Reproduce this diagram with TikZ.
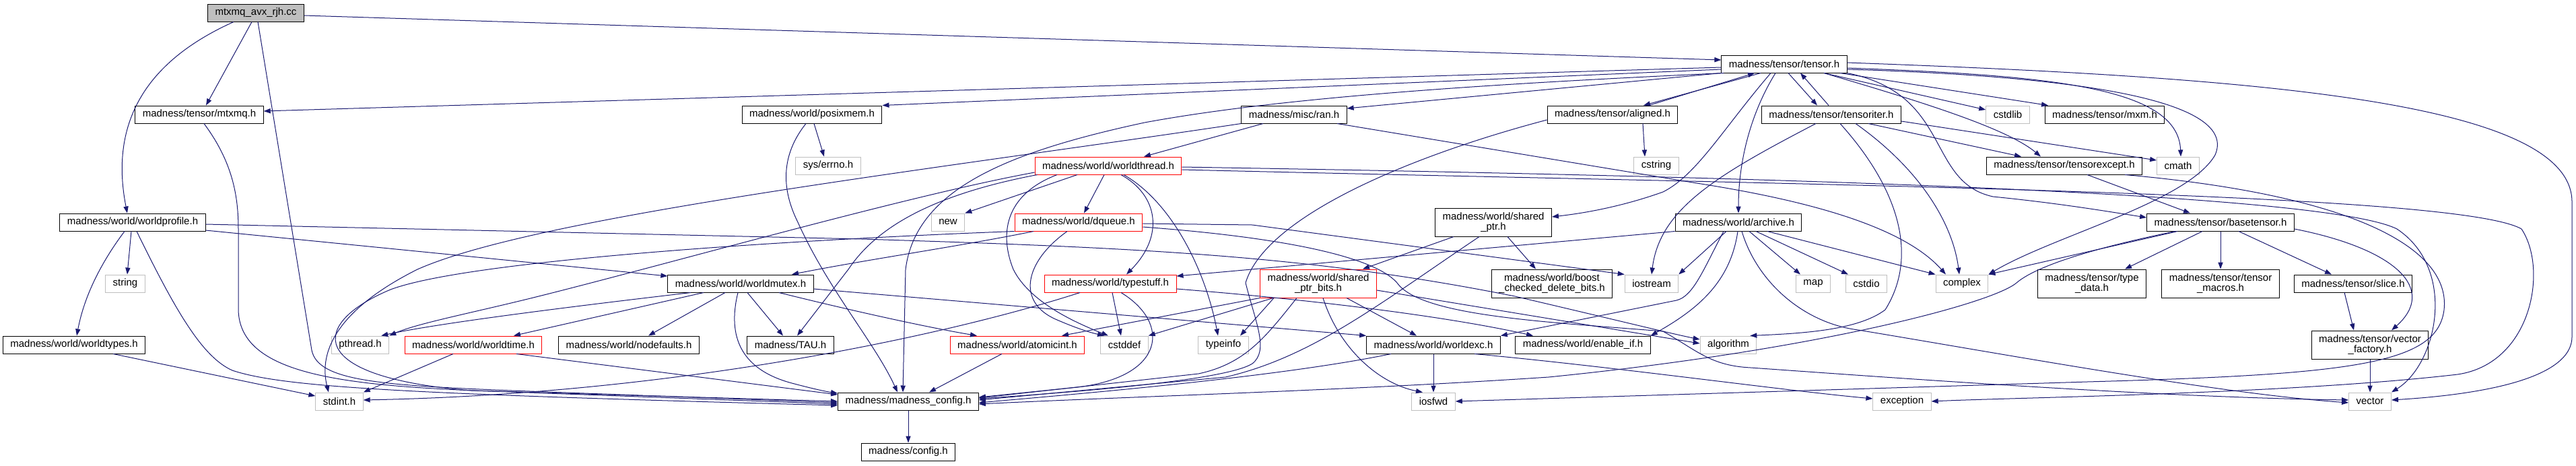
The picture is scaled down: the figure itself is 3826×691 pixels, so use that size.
\documentclass[tikz,border=0pt]{standalone}
\usepackage{fontspec}
\setmainfont{Liberation Sans}
\usetikzlibrary{arrows.meta}

\definecolor{edgeblue}{HTML}{191970}
\definecolor{sysgray}{HTML}{BFBFBF}
\newcommand{\hdrfont}{\fontsize{7.5}{7.7}\selectfont}

\begin{document}
\begin{tikzpicture}[x=0.5pt,y=-0.5pt,
  hdr/.style={draw=black,fill=white,font=\hdrfont,inner xsep=5.5pt,inner ysep=0pt,
    minimum height=13pt,line width=0.5pt,align=center},
  twoline/.style={hdr,minimum height=21pt},
  sys/.style={hdr,draw=sysgray},
  trunc/.style={hdr,draw=red},
  root/.style={hdr,fill=sysgray},
  dep/.style={draw=edgeblue,line width=0.5pt,-{Triangle[length=5pt,width=3.6pt]}}]
\useasboundingbox (0,0) rectangle (3826,691);

% % Nodes, rank by rank
\node[root] (root) at (380,19) {mtxmq\_avx\_rjh.cc};

\node[hdr] (tensor) at (2650,95) {madness/tensor/tensor.h};

\node[hdr] (mtxmq) at (296,170) {madness/tensor/mtxmq.h};
\node[hdr] (posixmem) at (1206,170) {madness/world/posixmem.h};
\node[hdr] (ran) at (1922,170) {madness/misc/ran.h};
\node[hdr] (aligned) at (2395,170) {madness/tensor/aligned.h};
\node[hdr] (tensoriter) at (2720,170) {madness/tensor/tensoriter.h};
\node[sys] (cstdlib) at (2982,170) {cstdlib};
\node[hdr] (mxm) at (3126,170) {madness/tensor/mxm.h};

\node[sys] (errno) at (1230,246) {sys/errno.h};
\node[trunc] (worldthread) at (1646,246) {madness/world/worldthread.h};
\node[sys] (cstring) at (2460,246) {cstring};
\node[hdr] (tensorexcept) at (3066,246) {madness/tensor/tensorexcept.h};
\node[sys] (cmath) at (3235,246) {cmath};

\node[hdr] (worldprofile) at (197,330) {madness/world/worldprofile.h};
\node[sys] (new) at (1408,330) {new};
\node[trunc] (dqueue) at (1602,330) {madness/world/dqueue.h};
\node[twoline] (sharedptr) at (2218,330) {madness/world/shared\\\_ptr.h};
\node[hdr] (archive) at (2582,330) {madness/world/archive.h};
\node[hdr] (basetensor) at (3298,330) {madness/tensor/basetensor.h};

\node[sys] (string) at (186,421) {string};
\node[hdr] (worldmutex) at (1100,421) {madness/world/worldmutex.h};
\node[trunc] (typestuff) at (1649,421) {madness/world/typestuff.h};
\node[twoline,draw=red] (sptrbits) at (1958,421) {madness/world/shared\\\_ptr\_bits.h};
\node[twoline] (boost) at (2305,421) {madness/world/boost\\\_checked\_delete\_bits.h};
\node[sys] (iostream) at (2453,421) {iostream};
\node[sys] (map) at (2693,421) {map};
\node[sys] (cstdio) at (2772,421) {cstdio};
\node[sys] (complex) at (2914,421) {complex};
\node[twoline] (typedata) at (3107,421) {madness/tensor/type\\\_data.h};
\node[twoline] (macros) at (3298,421) {madness/tensor/tensor\\\_macros.h};
\node[hdr] (slice) at (3495,421) {madness/tensor/slice.h};

\node[hdr] (worldtypes) at (110,512) {madness/world/worldtypes.h};
\node[sys] (pthread) at (535,512) {pthread.h};
\node[trunc] (worldtime) at (703,512) {madness/world/worldtime.h};
\node[hdr] (nodefaults) at (934,512) {madness/world/nodefaults.h};
\node[hdr] (tau) at (1174,512) {madness/TAU.h};
\node[trunc] (atomicint) at (1511,512) {madness/world/atomicint.h};
\node[sys] (cstddef) at (1670,512) {cstddef};
\node[sys] (typeinfo) at (1817,512) {typeinfo};
\node[hdr] (worldexc) at (2129,512) {madness/world/worldexc.h};
\node[hdr] (enableif) at (2351,512) {madness/world/enable\_if.h};
\node[sys] (algorithm) at (2567,512) {algorithm};
\node[twoline] (vfactory) at (3520,512) {madness/tensor/vector\\\_factory.h};

\node[sys] (stdint) at (504,596) {stdint.h};
\node[hdr] (config) at (1349,596) {madness/madness\_config.h};
\node[sys] (iosfwd) at (2129,596) {iosfwd};
\node[sys] (exception) at (2825,596) {exception};
\node[sys] (vector) at (3520,596) {vector};

\node[hdr] (configh) at (1349,671) {madness/config.h};

% % the file itself
\draw[dep] ([yshift=-2pt]root.east) -- ([yshift=3pt]tensor.west);
\draw[dep] ([xshift=-3pt]root.south) -- ([xshift=5pt]mtxmq.north);
\draw[dep] ([xshift=-16.5pt]root.south) .. controls (230,85) and (160,170) .. ([xshift=-4pt]worldprofile.north);
\draw[dep] ([xshift=1.5pt]root.south) -- (463,520) .. controls (472,565) and (560,572) .. (760,580) -- ([yshift=-1pt]config.west);
\draw[dep] ([xshift=3.5pt]mtxmq.south) .. controls (345,240) and (354,290) .. (354,340) -- (354,460)
  .. controls (356,560) and (520,574) .. (760,582) -- ([yshift=-2pt]config.west);

% % tensor.h
\draw[dep] ([yshift=-2.5pt]tensor.west) -- ([yshift=2.5pt]mtxmq.east);
\draw[dep] ([yshift=-4pt]tensor.west) -- (posixmem.north east);
\draw[dep] (tensor.south west) -- ([yshift=4.5pt]ran.east);
\draw[dep] ([xshift=2pt]tensor.south west) .. controls (2200,125) and (1900,145) .. (1700,182)
  .. controls (1500,225) and (1360,280) .. (1345,400) -- ([xshift=-4pt]config.north);
\draw[dep] ([xshift=-17.5pt]tensor.south) -- ([xshift=23pt]aligned.north);
\draw[dep] ([xshift=27pt]aligned.north) -- ([xshift=-22pt]tensor.south);
\draw[dep] ([xshift=3pt]tensor.south) -- ([xshift=-10.5pt]tensoriter.north);
\draw[dep] ([xshift=-2pt]tensoriter.north) -- ([xshift=12pt]tensor.south);
\draw[dep] ([xshift=29.5pt]tensor.south) -- ([yshift=3.5pt]cstdlib.west);
\draw[dep] ([xshift=41.5pt]tensor.south) -- ([xshift=-42pt]mxm.north);
\draw[dep] ([xshift=29.5pt]tensor.south) .. controls (2850,150) and (2980,190) .. ([xshift=-17.5pt]tensorexcept.north);
\draw[dep] ([yshift=-3pt]tensor.east) .. controls (3050,112) and (3235,130) .. ([xshift=2pt]cmath.north);
\draw[dep] ([yshift=-4pt]tensor.east) .. controls (3150,115) and (3320,160) .. (3290,230)
  .. controls (3250,300) and (3050,350) .. (complex.north east);
\draw[dep] ([yshift=1pt]tensor.east) .. controls (3350,115) and (3820,150) .. (3820,300) -- (3820,500)
  .. controls (3820,570) and (3650,588) .. ([yshift=1pt]vector.east);
\draw[dep] ([xshift=-6.5pt]tensor.south) .. controls (2605,160) and (2582,230) .. (archive.north);
\draw[dep] ([xshift=-10pt]tensor.south) .. controls (2560,190) and (2520,260) .. (2470,285)
  .. controls (2400,310) and (2340,318) .. ([yshift=4pt]sharedptr.east);
\draw[dep] (tensor.south east) .. controls (2900,140) and (2860,270) .. (2960,292)
  .. controls (3060,302) and (3130,314) .. ([yshift=3.5pt]basetensor.west);

% % tensoriter.h, aligned.h, tensorexcept.h
\draw[dep] ([xshift=-11.5pt]tensoriter.south) .. controls (2550,260) and (2465,310) .. (iostream.north);
\draw[dep] ([xshift=27.5pt]tensoriter.south) -- ([xshift=-32pt]tensorexcept.north);
\draw[dep] ([yshift=-5pt]tensoriter.east) -- ([yshift=4pt]cmath.west);
\draw[dep] ([xshift=6.5pt]tensoriter.south) .. controls (2820,280) and (2850,380) .. (2800,460)
  .. controls (2760,490) and (2680,495) .. ([xshift=-5pt]algorithm.north east);
\draw[dep] ([xshift=18pt]tensoriter.south) .. controls (2850,250) and (2900,330) .. ([xshift=-2pt]complex.north);
\draw[dep] ([xshift=22.5pt]aligned.south) -- ([xshift=-8.5pt]cstring.north);
\draw[dep] ([yshift=-4pt]aligned.west) .. controls (2100,230) and (1880,320) .. (1850,420)
  .. controls (1865,480) and (1885,520) .. (1860,540) .. controls (1820,565) and (1600,582) .. ([yshift=2pt]config.east);
\draw[dep] ([xshift=17pt]tensorexcept.south) -- ([xshift=-22.5pt]basetensor.north);
\draw[dep] ([xshift=45pt]tensorexcept.south) .. controls (3500,290) and (3640,370) .. (3630,460)
  .. controls (3620,540) and (3500,556) .. (3100,567) -- (iosfwd.east);

% % posixmem.h, ran.h
\draw[dep] ([xshift=1.5pt]posixmem.south) -- ([xshift=-3pt]errno.north);
\draw[dep] ([xshift=-4.5pt]posixmem.south) .. controls (1160,230) and (1160,280) .. (1185,330)
  .. controls (1230,430) and (1300,510) .. ([xshift=-8pt]config.north);
\draw[dep] ([xshift=-23pt]ran.south) -- ([xshift=26.5pt]worldthread.north);
\draw[dep] (ran.south west) .. controls (1400,250) and (800,320) .. (620,400)
  .. controls (520,450) and (470,510) .. ([xshift=-8pt]stdint.north);
\draw[dep] ([xshift=32pt]ran.south) -- (2520,272) .. controls (2700,300) and (2830,340) .. ([xshift=-12pt]complex.north);

% % worldthread.h
\draw[dep] ([xshift=-23pt]worldthread.south) -- (new.north east);
\draw[dep] ([xshift=-3pt]worldthread.south) -- ([xshift=4pt]dqueue.north);
\draw[dep] ([yshift=-5pt]worldthread.west) .. controls (1350,290) and (1000,390) .. (800,440)
  .. controls (700,465) and (620,480) .. (pthread.north east);
\draw[dep] ([xshift=2pt]worldthread.south west) .. controls (1380,290) and (1300,340) .. (1260,400) -- ([xshift=5pt]tau.north);
\draw[dep] ([xshift=-38pt]worldthread.south) .. controls (1490,290) and (1485,350) .. (1505,400)
  .. controls (1530,450) and (1600,480) .. ([xshift=-12pt]cstddef.north);
\draw[dep] ([xshift=9.5pt]worldthread.south) .. controls (1720,290) and (1730,350) .. ([xshift=12pt]typestuff.north);
\draw[dep] ([xshift=11.5pt]worldthread.south) .. controls (1740,300) and (1790,400) .. ([xshift=-4pt]typeinfo.north);
\draw[dep] ([yshift=-1pt]worldthread.east) .. controls (2600,262) and (3450,285) .. (3560,340)
  .. controls (3650,400) and (3620,540) .. (vector.north east);
\draw[dep] ([yshift=-3pt]worldthread.east) .. controls (2700,275) and (3650,285) .. (3745,340)
  .. controls (3785,400) and (3760,540) .. (3650,556) .. controls (3400,585) and (3000,590) .. (exception.east);

% % dqueue.h
\draw[dep] ([xshift=-33.5pt]dqueue.south) .. controls (1430,365) and (1290,385) .. ([xshift=38pt]worldmutex.north);
\draw[dep] ([xshift=-8.5pt]dqueue.south) .. controls (1520,390) and (1510,450) .. (1570,475)
  .. controls (1600,488) and (1620,494) .. ([xshift=-15pt]cstddef.north);
\draw[dep] (dqueue.south west) .. controls (1200,355) and (700,385) .. (580,430)
  .. controls (460,480) and (450,560) .. (700,580) -- ([yshift=0pt]config.west);
\draw[dep] ([yshift=-1pt]dqueue.east) -- (1860,334) -- (iostream.north west);
\draw[dep] ([yshift=-3.5pt]dqueue.east) .. controls (1900,352) and (2040,380) .. (2075,420)
  .. controls (2110,470) and (2300,478) .. (2470,492) .. controls (2520,520) and (2540,543) .. (2600,546)
  .. controls (2800,560) and (3200,590) .. ([yshift=1pt]vector.west);

% % worldprofile.h
\draw[dep] ([xshift=-1pt]worldprofile.south) -- ([xshift=1.5pt]string.north);
\draw[dep] ([xshift=-6pt]worldprofile.south) .. controls (150,390) and (125,440) .. ([xshift=2pt]worldtypes.north);
\draw[dep] ([xshift=3pt]worldprofile.south) .. controls (260,460) and (300,530) .. (345,550)
  .. controls (420,575) and (600,585) .. ([yshift=-3pt]config.west);
\draw[dep] ([yshift=-6pt]worldprofile.east) -- ([yshift=5.5pt]worldmutex.west);
\draw[dep] ([yshift=-1.5pt]worldprofile.east) -- (1280,355) .. controls (1700,368) and (1950,380) .. (2250,440)
  .. controls (2400,475) and (2480,495) .. ([yshift=4pt]algorithm.west);
\draw[dep] ([xshift=29pt]worldtypes.south) -- ([yshift=4pt]stdint.west);

% % worldmutex.h, worldtime.h
\draw[dep] ([xshift=-37pt]worldmutex.south) .. controls (850,455) and (650,480) .. ([xshift=-6pt]pthread.north east);
\draw[dep] ([xshift=-27.5pt]worldmutex.south) -- ([xshift=30pt]worldtime.north);
\draw[dep] ([xshift=-11.5pt]worldmutex.south) -- ([xshift=14.5pt]nodefaults.north);
\draw[dep] ([xshift=5pt]worldmutex.south) -- ([xshift=-5.5pt]tau.north);
\draw[dep] ([xshift=-2pt]worldmutex.south) .. controls (1080,500) and (1100,550) .. (1180,570)
  .. controls (1210,578) and (1230,582) .. ([yshift=6pt]config.west);
\draw[dep] ([xshift=28.5pt]worldmutex.south) .. controls (1300,470) and (1400,490) .. ([xshift=-30pt]atomicint.north);
\draw[dep] ([yshift=-4pt]worldmutex.east) -- (worldexc.north west);
\draw[dep] ([xshift=-15pt]worldtime.south) -- (stdint.north east);
\draw[dep] ([xshift=32pt]worldtime.south) -- ([yshift=5pt]config.west);

% % typestuff.h, shared_ptr
\draw[dep] ([xshift=-22.5pt]typestuff.south) .. controls (1400,500) and (1000,585) .. ([yshift=1pt]stdint.east);
\draw[dep] ([xshift=1.5pt]typestuff.south) -- ([xshift=-2.5pt]cstddef.north);
\draw[dep] ([xshift=8pt]typestuff.south) .. controls (1740,480) and (1730,560) .. (1600,575) -- ([yshift=3pt]config.east);
\draw[dep] ([yshift=-4pt]typestuff.east) .. controls (1950,445) and (2150,470) .. ([xshift=-37pt]enableif.north);
\draw[dep] ([xshift=-29.5pt]sharedptr.south) -- ([xshift=33pt]sptrbits.north);
\draw[dep] ([xshift=-10.5pt]sharedptr.south) .. controls (2050,450) and (1950,530) .. (1820,560) -- ([yshift=1pt]config.east);
\draw[dep] ([xshift=10.5pt]sharedptr.south) -- ([xshift=-12pt]boost.north);
\draw[dep] (sptrbits.south west) -- ([xshift=33pt]atomicint.north);
\draw[dep] ([xshift=10pt]sptrbits.south west) -- (cstddef.north east);
\draw[dep] ([xshift=-33pt]sptrbits.south) -- ([xshift=12.5pt]typeinfo.north);
\draw[dep] ([xshift=21pt]sptrbits.south) -- ([xshift=-12.5pt]worldexc.north);
\draw[dep] ([xshift=3.5pt]sptrbits.south) .. controls (1990,520) and (2050,570) .. ([xshift=-8pt]iosfwd.north);
\draw[dep] ([yshift=-5pt]sptrbits.east) -- ([yshift=1pt]algorithm.west);
\draw[dep] ([xshift=-16pt]sptrbits.south) .. controls (1880,500) and (1850,540) .. (1780,555) -- ([yshift=2.5pt]config.east);
\draw[dep] ([xshift=-11.5pt]atomicint.south) -- ([xshift=15.5pt]config.north);

% % worldexc.h, archive.h
\draw[dep] (worldexc.south) -- (iosfwd.north);
\draw[dep] ([xshift=30.5pt]worldexc.south) .. controls (2400,545) and (2650,580) .. ([yshift=2pt]exception.west);
\draw[dep] ([xshift=-31.5pt]worldexc.south) .. controls (1900,560) and (1600,585) .. ([yshift=-1pt]config.east);
\draw[dep] (archive.south west) -- ([yshift=5.5pt]typestuff.east);
\draw[dep] ([xshift=-9pt]archive.south) -- (iostream.north east);
\draw[dep] ([xshift=-11pt]archive.south) .. controls (2530,400) and (2515,440) .. (2490,446) -- (worldexc.north east);
\draw[dep] ([xshift=-0.5pt]archive.south) .. controls (2570,420) and (2520,460) .. (enableif.north east);
\draw[dep] ([xshift=8pt]archive.south) -- ([xshift=-9.5pt]map.north);
\draw[dep] ([xshift=13pt]archive.south) -- ([xshift=-13.5pt]cstdio.north);
\draw[dep] ([xshift=21.5pt]archive.south) -- (complex.north west);
\draw[dep] ([xshift=2.5pt]archive.south) .. controls (2610,420) and (2680,480) .. (2760,490)
  .. controls (3000,530) and (3300,585) .. ([yshift=-1pt]vector.west);

% % basetensor.h
\draw[dep] ([xshift=-13.5pt]basetensor.south) -- ([xshift=24.5pt]typedata.north);
\draw[dep] (basetensor.south) -- (macros.north);
\draw[dep] ([xshift=13.5pt]basetensor.south) -- ([xshift=-16pt]slice.north);
\draw[dep] ([yshift=-5pt]basetensor.east) .. controls (3560,370) and (3620,430) .. ([xshift=16pt]vfactory.north);
\draw[dep] ([xshift=-32pt]basetensor.south) -- (complex.north east);
\draw[dep] ([xshift=-33.5pt]basetensor.south) .. controls (3140,362) and (3030,390) .. (2995,420)
  .. controls (2960,450) and (2700,520) .. (2300,560) .. controls (2000,580) and (1700,588) .. ([yshift=-2pt]config.east);
\draw[dep] ([xshift=-6.5pt]slice.south) -- ([xshift=-12pt]vfactory.north);
\draw[dep] (vfactory.south) -- (vector.north);
\draw[dep] (config.south) -- (configh.north);
\end{tikzpicture}
\end{document}
